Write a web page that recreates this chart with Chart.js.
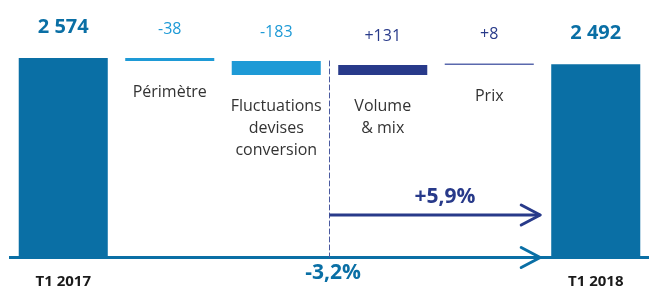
<!DOCTYPE html>
<html>
<head>
<meta charset="utf-8">
<script src="https://cdn.jsdelivr.net/npm/chart.js@4"></script>
<style>
  html, body { margin:0; padding:0; background:#fff; }
  #wrap { width:649px; height:291px; position:relative; }
</style>
</head>
<body>
<div id="wrap"><canvas id="chartPont"></canvas></div>
<script>
// valeurs (M€)
const categories = ["T1 2017", "Périmètre", "Fluctuations\ndevises\nconversion", "Volume\n& mix", "Prix", "T1 2018"];
const deltas = [2574, -38, -183, 131, 8, 2492];
const valueLabels = ["2 574", "-38", "-183", "+131", "+8", "2 492"];
const changeLabels = ["-3,2%", "+5,9%"];
const barColors = ["#0a6fa5", "#1e9ad6", "#1e9ad6", "#283a8a", "#5a69ad", "#0a6fa5"];
const labelColors = ["#0a6fa5", "#1e9ad6", "#1e9ad6", "#283a8a", "#283a8a", "#0a6fa5"];

const FONT = "'Open Sans', sans-serif";

// barres flottantes du pont
let cumul = 0;
const ranges = deltas.map((d, i) => {
  if (i === 0 || i === deltas.length - 1) { cumul = d; return [0, d]; }
  const r = [cumul, cumul + d];
  cumul += d;
  return r;
});

function chevron(ctx, tipX, y, color) {
  ctx.strokeStyle = color;
  ctx.lineWidth = 3;
  ctx.lineCap = "round";
  ctx.lineJoin = "round";
  ctx.beginPath();
  ctx.moveTo(tipX - 19, y - 10);
  ctx.lineTo(tipX, y);
  ctx.lineTo(tipX - 19, y + 10);
  ctx.stroke();
}

const annotations = {
  id: "annotations",
  afterDatasetsDraw(chart) {
    const ctx = chart.ctx;
    const yScale = chart.scales.y;
    const bars = chart.getDatasetMeta(0).data;
    const y0 = yScale.getPixelForValue(0);
    ctx.save();

    // ligne de base + flèche -3,2%
    const last = bars[bars.length - 1];
    const tipX = last.x - last.width / 2 - 11;
    ctx.strokeStyle = "#0a6fa5";
    ctx.lineWidth = 3;
    ctx.beginPath();
    ctx.moveTo(9, y0 + 0.5);
    ctx.lineTo(chart.width, y0 + 0.5);
    ctx.stroke();
    chevron(ctx, tipX, y0 + 0.5, "#0a6fa5");

    // séparation pointillée
    const dashX = (bars[2].x + bars[3].x) / 2;
    ctx.strokeStyle = "#4a5aa0";
    ctx.lineWidth = 1;
    ctx.setLineDash([5, 3]);
    ctx.beginPath();
    ctx.moveTo(dashX, yScale.getPixelForValue(ranges[2][0]));
    ctx.lineTo(dashX, y0);
    ctx.stroke();
    ctx.setLineDash([]);

    // flèche +5,9%
    const arrowY = 215;
    ctx.strokeStyle = "#283a8a";
    ctx.lineWidth = 3;
    ctx.lineCap = "butt";
    ctx.beginPath();
    ctx.moveTo(dashX, arrowY);
    ctx.lineTo(tipX, arrowY);
    ctx.stroke();
    chevron(ctx, tipX, arrowY, "#283a8a");

    ctx.textAlign = "center";
    ctx.textBaseline = "middle";

    ctx.fillStyle = "#283a8a";
    ctx.font = "bold 21px " + FONT;
    ctx.fillText(changeLabels[1], 445, 197);
    ctx.fillStyle = "#0a6fa5";
    ctx.fillText(changeLabels[0], 333, 273);

    bars.forEach((el, i) => {
      const top = Math.min(el.y, el.base);
      const bottom = Math.max(el.y, el.base);
      const ends = i === 0 || i === bars.length - 1;
      ctx.fillStyle = labelColors[i];
      ctx.font = (ends ? "bold 20px " : "16px ") + FONT;
      ctx.fillText(valueLabels[i], el.x, top - (ends ? 31 : 29));
      if (ends) {
        ctx.fillStyle = "#1a1a1a";
        ctx.font = "bold 15px " + FONT;
        ctx.fillText(categories[i], el.x, 282);
      } else {
        ctx.fillStyle = "#333";
        ctx.font = "16px " + FONT;
        categories[i].split("\n").forEach((line, k) => {
          ctx.fillText(line, el.x, bottom + 31 + k * 22);
        });
      }
    });
    ctx.restore();
  }
};

new Chart(document.getElementById("chartPont"), {
  type: "bar",
  data: {
    labels: categories,
    datasets: [{
      data: ranges,
      backgroundColor: barColors,
      borderWidth: 0,
      borderSkipped: false,
      barPercentage: 0.836,
      categoryPercentage: 1,
      minBarLength: 1.5
    }]
  },
  options: {
    responsive: true,
    maintainAspectRatio: false,
    animation: false,
    layout: { padding: { left: 10, right: 0, top: 10, bottom: 34 } },
    plugins: { legend: { display: false }, tooltip: { enabled: false } },
    scales: {
      x: { display: false },
      y: { display: false, min: 0, max: 3195 }
    }
  },
  plugins: [annotations]
});
</script>
</body>
</html>
